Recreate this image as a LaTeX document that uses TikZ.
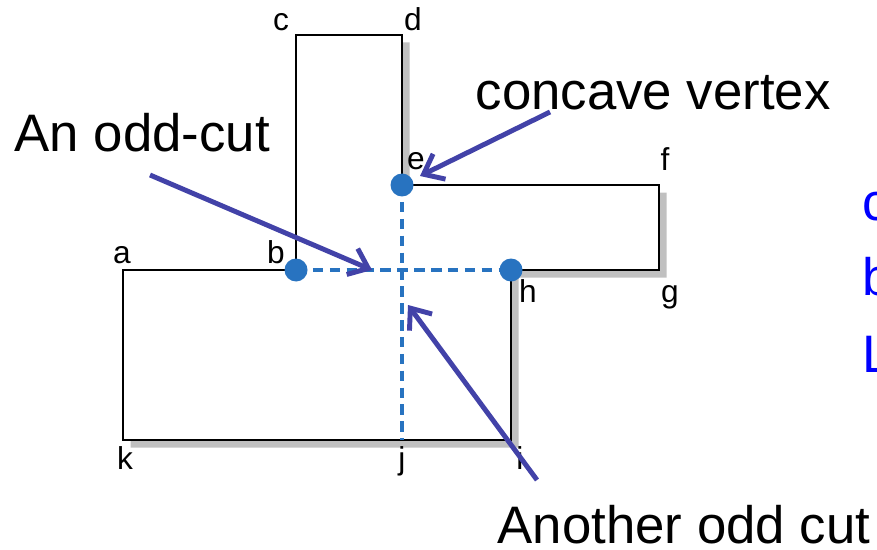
\documentclass[tikz,border=0pt]{standalone}
\usepackage{fontspec}
\setmainfont{Liberation Sans}
\usepackage{tikz}
\usetikzlibrary{arrows.meta}

\definecolor{cutblue}{RGB}{40,115,192}
\definecolor{arrowblue}{RGB}{66,66,168}
\definecolor{shadowgray}{RGB}{192,192,192}

\tikzset{
  vlabel/.style={inner sep=0pt, anchor=base, font=\fontsize{9}{9}\selectfont},
  bigtext/.style={inner sep=0pt, anchor=base west, font=\fontsize{15}{15}\selectfont},
  pointer/.style={draw=arrowblue, line width=1.4pt, -{Straight Barb[length=5pt,width=8pt,line width=1.4pt]}},
  cutline/.style={draw=cutblue, line width=1.1pt, dash pattern=on 3pt off 1.8pt},
  vdot/.style={fill=cutblue, draw=none}
}

\begin{document}
\begin{tikzpicture}[x=0.01cm, y=-0.01cm]
  \useasboundingbox (0, 0) rectangle (877, 549);
  \clip (0, 0) rectangle (877, 549);

  % sommets du polygone
  \coordinate (a) at (123, 270);
  \coordinate (b) at (296, 270);
  \coordinate (c) at (296, 35);
  \coordinate (d) at (402, 35);
  \coordinate (e) at (402, 185);
  \coordinate (f) at (659, 185);
  \coordinate (g) at (659, 270);
  \coordinate (h) at (511, 270);
  \coordinate (i) at (511, 440);
  \coordinate (j) at (402, 440);
  \coordinate (k) at (123, 440);

  % ombre
  \begin{scope}[transform canvas={shift={(0.075cm,-0.075cm)}}]
    \fill[shadowgray] (a) -- (b) -- (c) -- (d) -- (e) -- (f) -- (g) -- (h) -- (i) -- (k) -- cycle;
  \end{scope}

  % polygone
  \draw[fill=white, line width=0.75pt] (a) -- (b) -- (c) -- (d) -- (e) -- (f) -- (g) -- (h) -- (i) -- (k) -- cycle;

  % coupes
  \draw[cutline] (b) -- (h);
  \draw[cutline] (e) -- (j);

  \fill[vdot] (b) circle (11.5);
  \fill[vdot] (e) circle (11.5);
  \fill[vdot] (h) circle (11.5);

  % noms des sommets
  \node[vlabel] (la) at (122, 263) {a};
  \node[vlabel] (lb) at (276, 263) {b};
  \node[vlabel] (lc) at (281, 31) {c};
  \node[vlabel] (ld) at (413, 31) {d};
  \node[vlabel] (le) at (416, 170) {e};
  \node[vlabel] (lf) at (665, 171) {f};
  \node[vlabel] (lg) at (670, 302) {g};
  \node[vlabel] (lh) at (528, 302) {h};
  \node[vlabel] (li) at (520, 469) {i};
  \node[vlabel] (lj) at (402, 469) {j};
  \node[vlabel] (lk) at (125, 469) {k};

  % textes
  \node[bigtext] (oddcut) at (14, 152) {An odd-cut};
  \node[bigtext] (concave) at (475, 110) {concave vertex};
  \node[bigtext] (another) at (497, 543) {Another odd cut};

  \node[bigtext, text=blue] (t1) at (862, 220) {c};
  \node[bigtext, text=blue] (t2) at (862, 295) {b};
  \node[bigtext, text=blue] (t3) at (862, 372) {L};

  % fleches
  \coordinate (s1) at (150, 175);
  \coordinate (e1) at (372, 270);
  \coordinate (s2) at (550, 112);
  \coordinate (e2) at (420, 176);
  \coordinate (s3) at (537, 480);
  \coordinate (e3) at (408, 305);
  \draw[pointer] (s1) -- (e1);
  \draw[pointer] (s2) -- (e2);
  \draw[pointer] (s3) -- (e3);
\end{tikzpicture}
\end{document}
